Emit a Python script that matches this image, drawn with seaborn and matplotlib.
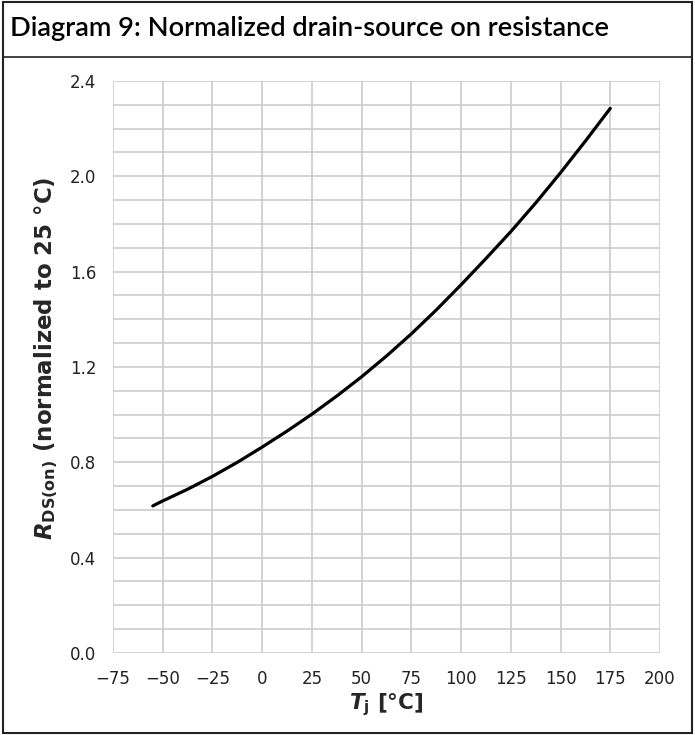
import numpy as np
import pandas as pd
import matplotlib
matplotlib.use("Agg")
import matplotlib.pyplot as plt
import seaborn as sns
from matplotlib.patches import Rectangle
from matplotlib.lines import Line2D
from matplotlib.ticker import MultipleLocator, FormatStrFormatter

# values
tj = [-55, -50, -37.5, -25, -12.5, 0, 12.5, 25, 37.5, 50, 62.5,
      75, 87.5, 100, 112.5, 125, 137.5, 150, 162.5, 175]
rds_norm = [0.617, 0.638, 0.687, 0.741, 0.800, 0.864, 0.931, 1.002, 1.078, 1.159, 1.246,
            1.339, 1.439, 1.545, 1.655, 1.768, 1.888, 2.015, 2.148, 2.285]

title = "Diagram 9: Normalized drain-source on resistance"
x_label = r"$\mathbfit{T}_{\mathbf{j}}$ [°C]"
y_label = r"$\mathbfit{R}_{\mathbf{DS(on)}}$ (normalized to 25 °C)"

df = pd.DataFrame({"Tj": tj, "R": rds_norm})

sns.set_style("white")
plt.rcParams["font.family"] = "sans-serif"
plt.rcParams["font.sans-serif"] = ["DejaVu Sans"]
plt.rcParams["mathtext.fontset"] = "dejavusans"

fig = plt.figure(figsize=(6.95, 7.35), dpi=100)
ax = fig.add_axes([0.1626, 0.1116, 0.787, 0.7782])

sns.lineplot(data=df, x="Tj", y="R", ax=ax, color="black", linewidth=2.3)

ax.set_xlim(-75, 200)
ax.set_ylim(0, 2.4)
ax.xaxis.set_major_locator(MultipleLocator(25))
ax.yaxis.set_major_locator(MultipleLocator(0.4))
ax.yaxis.set_minor_locator(MultipleLocator(0.1))
ax.yaxis.set_major_formatter(FormatStrFormatter("%.1f"))
ax.grid(True, which="both", color="#cccccc", linewidth=1.2)
ax.set_axisbelow(True)
for s in ax.spines.values():
    s.set_visible(False)
ax.tick_params(axis="both", which="major", length=8, width=1.2, color="#cccccc",
               labelsize=12, labelcolor="#222222", pad=4)
ax.tick_params(axis="both", which="minor", length=0)

ax.set_xlabel(x_label, fontsize=15.5, fontweight="bold")
ax.set_ylabel(y_label, fontsize=16.5, fontweight="bold")
ax.xaxis.set_label_coords(0.5, -0.066)
ax.yaxis.set_label_coords(-0.097, 0.515)

# frame and title bar
fig.patches.append(Rectangle((0.004, 0.003), 0.992, 0.994, transform=fig.transFigure,
                             fill=False, edgecolor="#222222", linewidth=1.5))
fig.lines.append(Line2D([0.004, 0.996], [0.9224, 0.9224], transform=fig.transFigure,
                        color="#222222", linewidth=1.2))
fig.text(0.014, 0.961, title, fontsize=19.6, family=["Lato", "DejaVu Sans"],
         fontweight="semibold", va="center", ha="left", color="black")

fig.savefig("out.png", dpi=100)
